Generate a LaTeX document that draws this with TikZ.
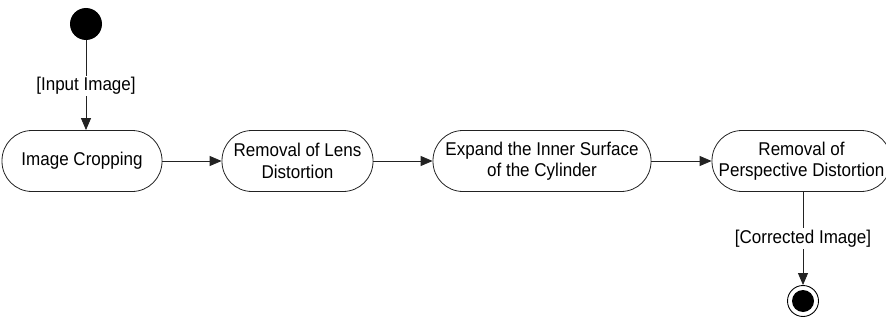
\documentclass[tikz,border=0pt]{standalone}
\usepackage{fontspec}
\setmainfont{Liberation Sans}[FakeStretch=0.92]
\usetikzlibrary{arrows.meta}
\definecolor{linec}{HTML}{222222}
\begin{document}
\begin{tikzpicture}[x=1pt,y=-1pt,
  every node/.style={font=\fontsize{18.5}{21.5}\selectfont},
  actbox/.style={draw=linec, line width=0.8pt, rectangle, rounded corners=30pt,
    minimum height=61pt, inner sep=0pt, align=center},
  flow/.style={draw=linec, line width=0.8pt, -{Triangle[length=12pt,width=10pt]}},
  guard/.style={fill=white, inner sep=1.5pt}
]
\useasboundingbox (0,0) rectangle (886,321);
\node[circle, fill=black, minimum size=32pt, inner sep=0pt] (start) at (86,24) {};
\node[actbox, minimum width=160pt] (b1) at (82,161) {Image Cropping};
\node[actbox, minimum width=151pt] (b2) at (297.5,161) {Removal of Lens\\Distortion};
\node[actbox, minimum width=218pt] (b3) at (542,161) {Expand the Inner Surface\\of the Cylinder};
\node[actbox, minimum width=179pt] (b4) at (801.5,161) {Removal of\\Perspective Distortion};
\node[circle, draw=black, line width=0.9pt, minimum size=31pt, inner sep=0pt] (endo) at (803,301) {};
\node[circle, fill=black, minimum size=22pt, inner sep=0pt] (endi) at (endo) {};

\draw[flow] (start.south) -- (start.south |- b1.north)
  node[guard, pos=0.5, yshift=-1pt] (g1) {[Input Image]};
\draw[flow] (b1.east) -- (b2.west);
\draw[flow] (b2.east) -- (b3.west);
\draw[flow] (b3.east) -- (b4.west);
\draw[flow] (endo |- b4.south) -- (endo.north)
  node[guard, pos=0.5, yshift=0pt] (g2) {[Corrected Image]};
\end{tikzpicture}
\end{document}
